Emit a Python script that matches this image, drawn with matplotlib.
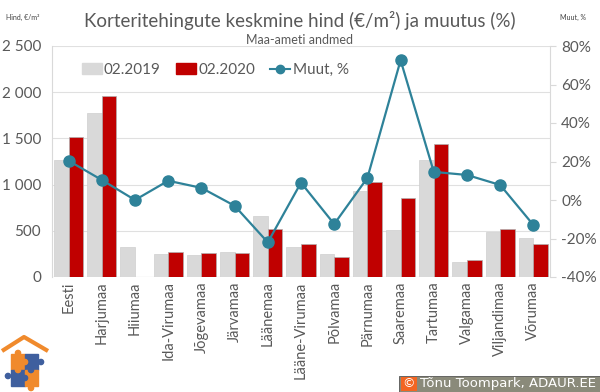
import matplotlib.pyplot as plt
from matplotlib.patches import Rectangle, Circle
from matplotlib.lines import Line2D
import numpy as np

plt.rcParams['font.family'] = ['Lato', 'DejaVu Sans']

regions = ['Eesti', 'Harjumaa', 'Hiiumaa', 'Ida-Virumaa', 'Jõgevamaa', 'Järvamaa',
           'Läänemaa', 'Lääne-Virumaa', 'Põlvamaa', 'Pärnumaa', 'Saaremaa',
           'Tartumaa', 'Valgamaa', 'Viljandimaa', 'Võrumaa']
price_2019 = [1266, 1775, 325, 250, 240, 270, 660, 325, 250, 930, 508, 1266, 162, 487, 422]
price_2020 = [1515, 1955, 0, 270, 260, 265, 520, 357, 215, 1030, 855, 1440, 184, 520, 357]
change_pct = [20.4, 10.4, 0.0, 10.0, 6.3, -3.0, -22.0, 9.0, -12.5, 11.5, 72.6, 14.6, 13.0, 7.8, -13.0]

GRAY = '#d9d9d9'
RED = '#c00000'
TEAL = '#2e8299'
TXT = '#595959'

fig = plt.figure(figsize=(6, 3.92), dpi=100)
ax = fig.add_axes([52 / 600, 1 - 277 / 392, 498 / 600, 231 / 392])

x = np.arange(len(regions))
w = 0.44
ax.bar(x - w / 2, price_2019, w, color=GRAY, edgecolor='#cfcfcf', linewidth=0.5, zorder=2)
ax.bar(x + w / 2, price_2020, w, color=RED, edgecolor='#b0b0b0', linewidth=0.5, zorder=2)
ax.set_xlim(-0.5, len(regions) - 0.5)
ax.set_ylim(0, 2500)
ax.set_yticks(range(0, 2501, 500))
ax.set_yticklabels(['0', '500', '1 000', '1 500', '2 000', '2 500'])
ax.grid(axis='y', color='#e0e0e0', linewidth=0.8, zorder=0)
ax.set_xticks(x)
ax.set_xticklabels(regions, rotation=90, fontsize=10.5, color=TXT)
for s in ['top', 'right', 'bottom']:
    ax.spines[s].set_visible(False)
ax.spines['left'].set_color('#d9d9d9')
ax.tick_params(axis='y', length=0, labelsize=11, labelcolor=TXT, pad=8)
ax.tick_params(axis='x', length=0, pad=3)
ax.axhline(0, color='#d9d9d9', linewidth=0.8, zorder=1)

ax2 = ax.twinx()
ax2.plot(x, change_pct, color=TEAL, linewidth=1.6, marker='o', markersize=8, zorder=5)
ax2.set_ylim(-40, 80)
ax2.set_yticks(range(-40, 81, 20))
ax2.set_yticklabels([f'{v}%' for v in range(-40, 81, 20)])
for s in ['top', 'left', 'bottom']:
    ax2.spines[s].set_visible(False)
ax2.spines['right'].set_color('#d9d9d9')
ax2.tick_params(axis='y', length=4, color='#d9d9d9', labelsize=11, labelcolor=TXT, pad=4)

fig.text(0.5, 1 - 20 / 392, 'Korteritehingute keskmine hind (€/m²) ja muutus (%)',
         ha='center', va='center', fontsize=13.5, color=TXT)
fig.text(0.5, 1 - 40 / 392, 'Maa-ameti andmed', ha='center', va='center', fontsize=9, color=TXT)
fig.text(6 / 600, 1 - 17 / 392, 'Hind, €/m²', ha='left', va='center', fontsize=5, color='#404040')
fig.text(560 / 600, 1 - 17 / 392, 'Muut, %', ha='left', va='center', fontsize=5, color='#404040')

# legend
handles = [Rectangle((0, 0), 1, 1, color=GRAY), Rectangle((0, 0), 1, 1, color=RED),
           Line2D([], [], color=TEAL, marker='o', markersize=6, linewidth=1.5)]
fig.legend(handles, ['02.2019', '02.2020', 'Muut, %'], loc='center left',
           bbox_to_anchor=(68 / 600, 1 - 70 / 392), ncol=3, frameon=False, fontsize=11,
           handlelength=1.3, handletextpad=0.15, columnspacing=1.0, labelcolor=TXT)

# logo, drawn in pixel coordinates
lax = fig.add_axes([0, 0, 50 / 600, 62 / 392])
lax.set_xlim(0, 50)
lax.set_ylim(392, 330)
lax.axis('off')
ORANGE = '#f08a2c'
BLUE = '#3f5f9e'
lax.plot([2, 24, 48], [351, 337, 351], color=ORANGE, linewidth=3, solid_capstyle='butt')
lax.add_patch(Rectangle((11, 354), 14, 16, color=ORANGE))
lax.add_patch(Rectangle((25, 354), 13, 16, color=BLUE))
lax.add_patch(Rectangle((11, 370), 14, 16, color=BLUE))
lax.add_patch(Rectangle((25, 370), 13, 16, color=ORANGE))
for cx, cy, c in [(25, 362, ORANGE), (31, 370, BLUE), (18, 370, ORANGE), (25, 378, BLUE),
                  (41, 362, BLUE), (8, 376, BLUE), (31, 388, ORANGE), (18, 353, ORANGE)]:
    lax.add_patch(Circle((cx, cy), 2.6, color=c))

# copyright box
fig.patches.append(Rectangle((399 / 600, 0), 201 / 600, 16 / 392, transform=fig.transFigure,
                             facecolor='#8a8a7a', edgecolor='#555555', linewidth=0.6))
fig.patches.append(Rectangle((401 / 600, 1 / 392), 16 / 600, 14 / 392, transform=fig.transFigure,
                             facecolor='#f26522', edgecolor='none'))
fig.text(409 / 600, 8 / 392, '©', ha='center', va='center', fontsize=9, color='white',
         family='DejaVu Sans')
fig.text(420 / 600, 8 / 392, 'Tõnu Toompark, ADAUR.EE', ha='left', va='center',
         fontsize=9.5, color='white', family='DejaVu Sans')

fig.savefig('out.png', dpi=100)
